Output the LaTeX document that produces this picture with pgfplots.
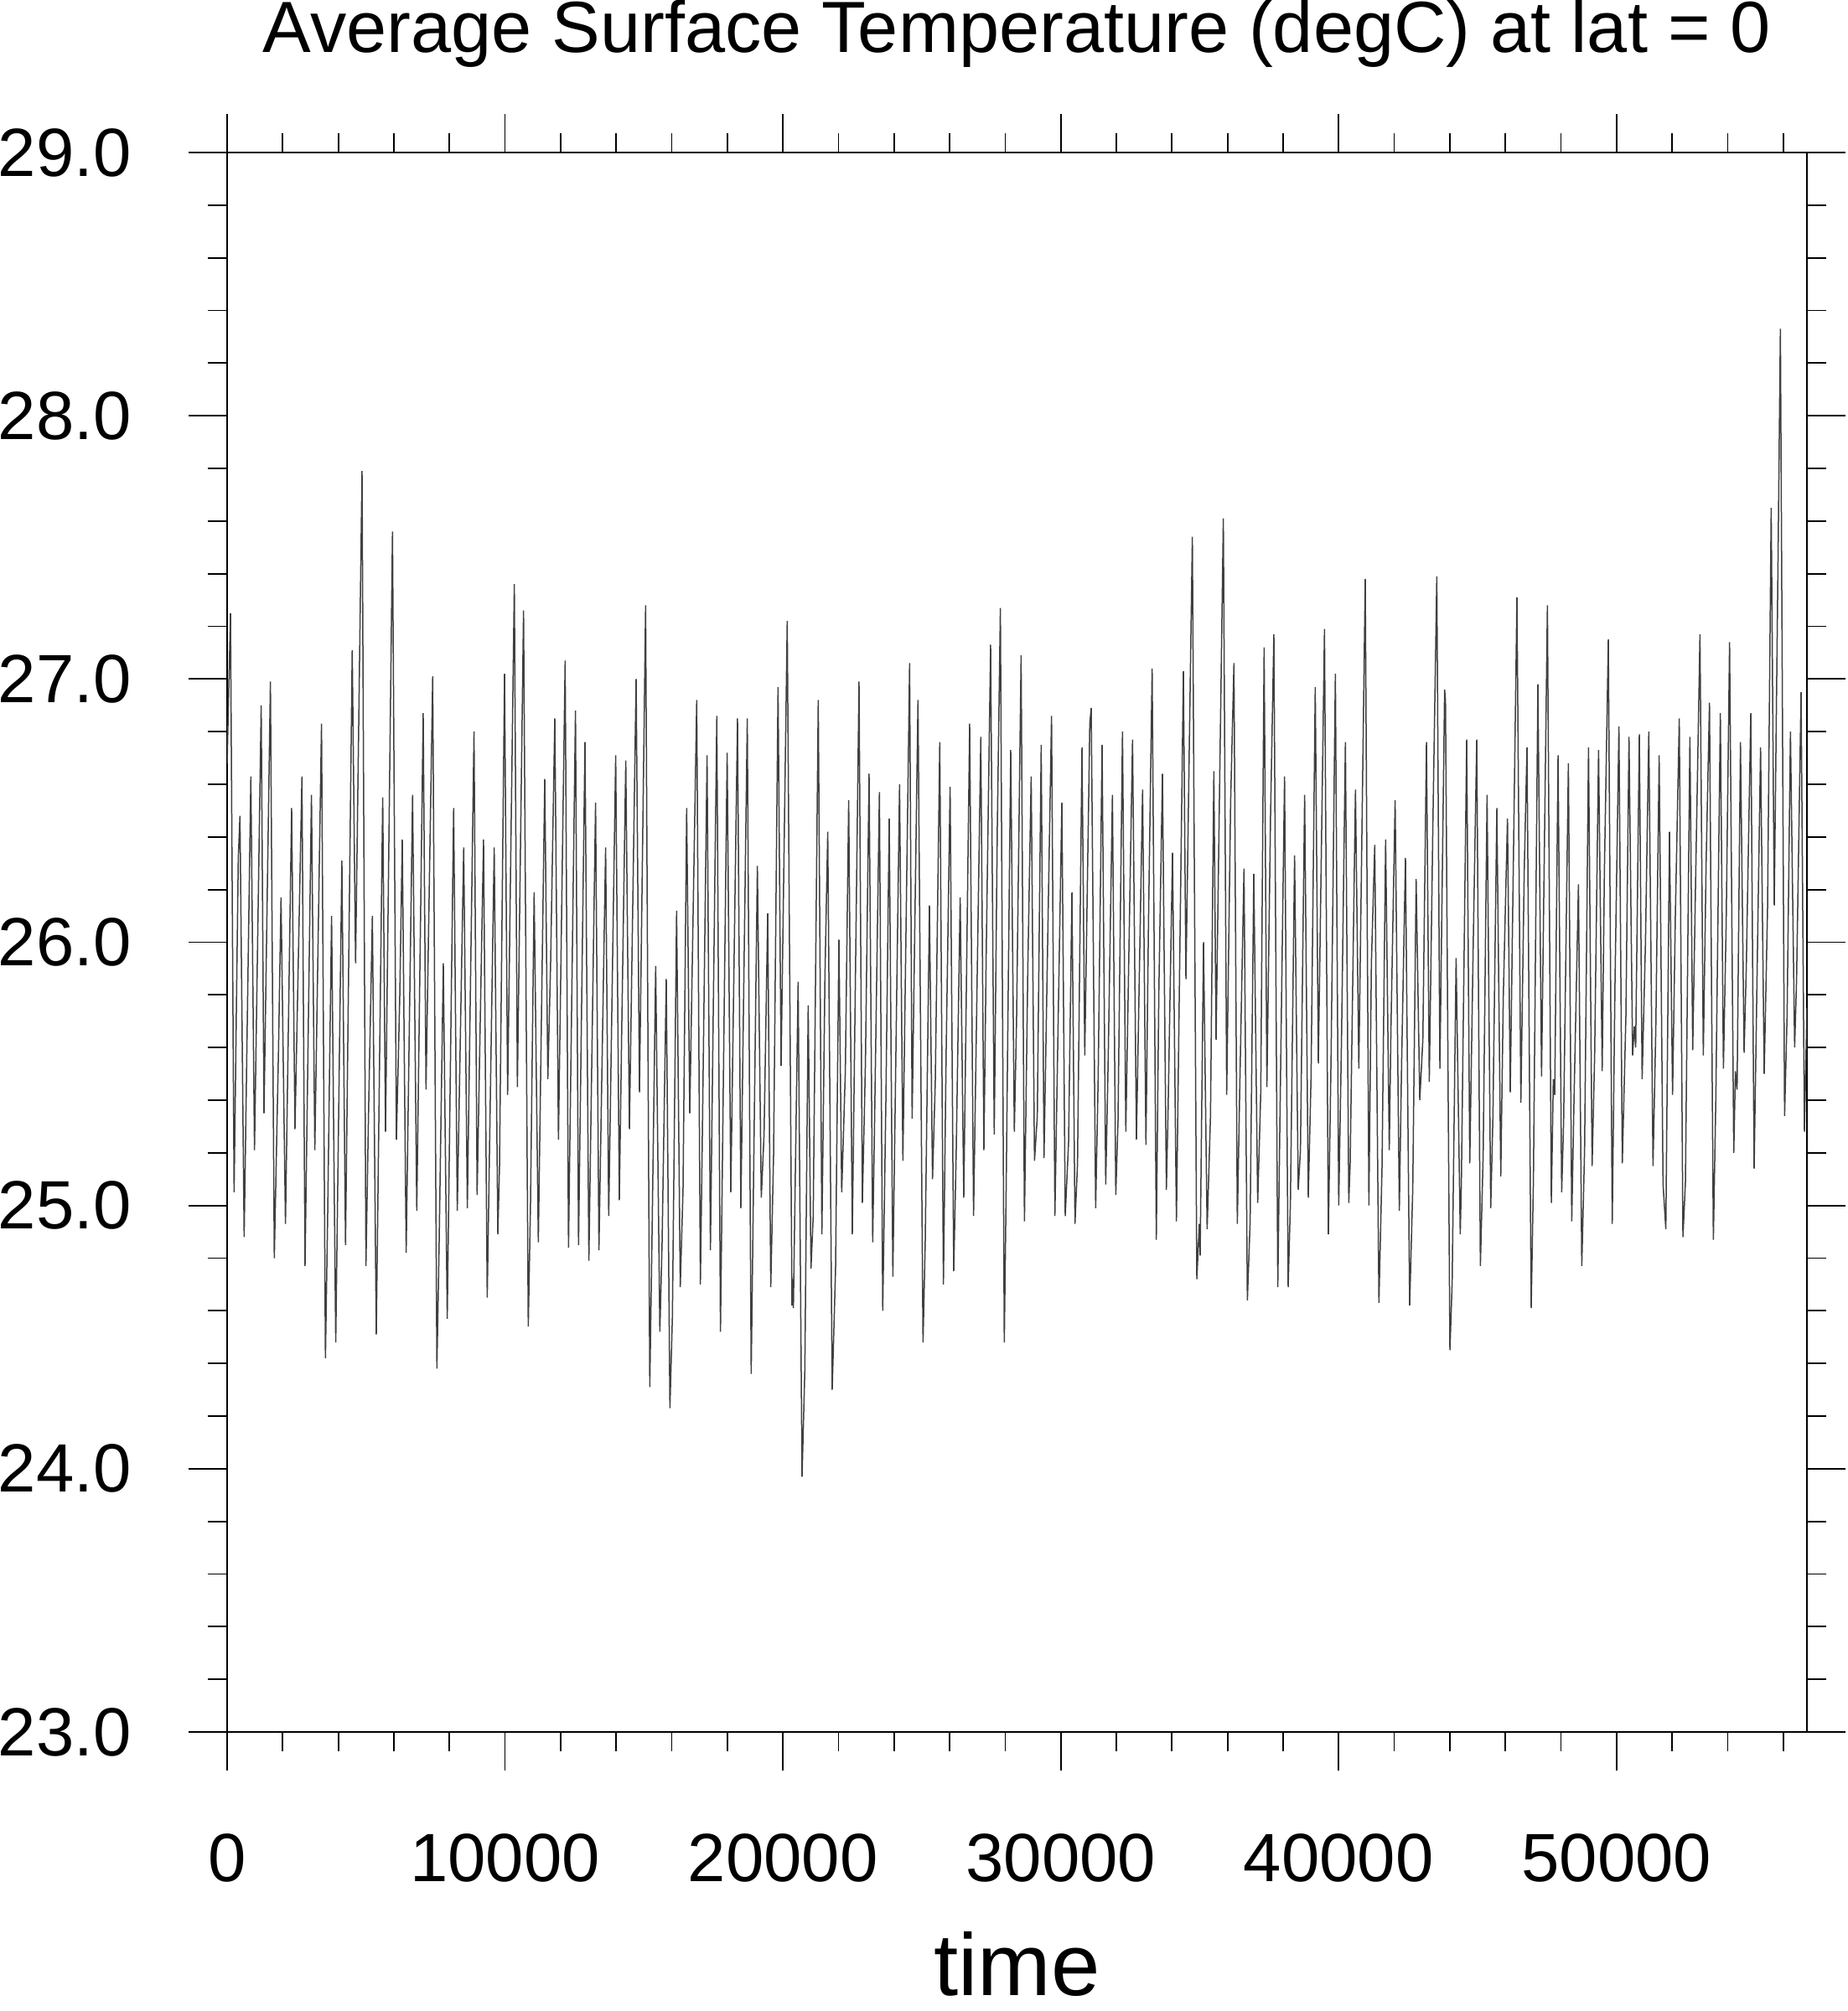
\documentclass[border=0pt]{standalone}
\usepackage{fontspec}
\setmainfont{Liberation Sans}
\usepackage{pgfplots}
\pgfplotsset{compat=1.18}
\usepackage{pgfplotstable}
\pgfplotstableread{
t v
0 26.68
121 27.25
251 25.05
402 26.32
462 26.48
613 24.88
854 26.63
985 25.21
1226 26.90
1327 25.35
1558 26.99
1698 24.80
1849 25.59
1940 26.17
2100 24.93
2321 26.51
2442 25.29
2693 26.63
2804 24.77
3035 26.56
3156 25.21
3397 26.83
3538 24.42
3618 24.96
3759 26.10
3909 24.48
4130 26.31
4261 24.85
4502 27.11
4623 25.92
4855 27.79
4996 24.77
5087 25.34
5227 26.10
5368 24.51
5599 26.55
5700 25.28
5951 27.56
6092 25.25
6212 25.79
6303 26.39
6443 24.82
6674 26.56
6825 24.98
7056 26.87
7157 25.44
7398 27.01
7549 24.38
7629 24.85
7780 25.92
7921 24.57
8152 26.51
8282 24.98
8514 26.36
8644 24.99
8885 26.80
8996 25.04
9227 26.39
9360 24.65
9611 26.36
9742 24.89
9802 25.15
9983 27.02
10094 25.42
10335 27.36
10445 25.45
10667 27.26
10837 24.54
10918 25.01
11048 26.19
11199 24.86
11430 26.62
11541 25.48
11641 25.92
11792 26.85
11923 25.25
12164 27.07
12285 24.84
12536 26.88
12646 24.85
12878 26.76
13018 24.79
13259 26.53
13380 24.83
13621 26.36
13732 24.96
13983 26.71
14114 25.02
14195 25.63
14346 26.69
14477 25.29
14718 27.00
14839 25.43
15060 27.28
15210 24.31
15301 24.96
15422 25.91
15572 24.52
15653 24.86
15803 25.86
15934 24.23
16024 24.58
16175 26.12
16306 24.69
16406 25.06
16537 26.51
16648 25.35
16899 26.92
17030 24.70
17110 25.34
17271 26.71
17391 24.83
17622 26.86
17753 24.52
17994 26.72
18125 25.05
18366 26.85
18487 24.99
18718 26.85
18859 24.36
19081 26.29
19222 25.03
19322 25.27
19453 26.11
19563 24.69
19664 25.19
19825 26.97
19935 25.53
20156 27.22
20327 24.62
20357 24.72
20377 24.61
20548 25.85
20689 23.97
20790 24.38
20910 25.76
21011 24.76
21091 24.96
21272 26.92
21403 24.89
21513 25.87
21614 26.42
21774 24.30
21895 24.76
22016 26.01
22116 25.05
22247 25.51
22367 26.54
22498 24.89
22739 26.99
22860 25.01
22970 25.54
23101 26.64
23232 24.86
23322 25.48
23473 26.57
23593 24.60
23705 25.39
23826 26.47
23957 24.73
24198 26.60
24318 25.17
24560 27.06
24650 25.33
24861 26.92
25042 24.48
25122 24.86
25273 26.14
25384 25.10
25484 25.47
25645 26.76
25776 24.70
25876 25.59
26017 26.59
26147 24.75
26238 25.21
26379 26.17
26509 25.03
26720 26.83
26861 24.96
27122 26.78
27233 25.21
27313 25.93
27474 27.13
27605 25.27
27715 26.43
27826 27.27
27967 24.48
28037 25.09
28198 26.73
28328 25.28
28409 25.71
28572 27.09
28692 24.94
28813 25.90
28934 26.63
29054 25.17
29155 25.34
29295 26.75
29396 25.18
29547 26.12
29667 26.86
29788 24.96
29868 25.47
30039 26.53
30160 24.96
30280 25.24
30401 26.19
30511 24.93
30602 25.16
30763 26.74
30863 25.57
31044 26.83
31094 26.89
31255 24.99
31346 25.49
31486 26.75
31617 25.08
31707 25.56
31858 26.56
31979 25.04
32059 25.32
32220 26.80
32340 25.28
32582 26.77
32722 25.25
32944 26.58
33064 25.23
33155 26.07
33287 27.04
33437 24.87
33528 25.81
33658 26.64
33799 25.06
33859 25.35
34020 26.34
34161 24.94
34412 27.03
34503 25.86
34734 27.54
34895 24.72
34985 24.93
35015 24.81
35136 26.00
35266 24.91
35387 25.34
35508 26.65
35588 25.63
35849 27.61
35970 25.42
36111 26.53
36231 27.06
36352 24.93
36432 25.40
36593 26.28
36714 24.64
36814 24.94
36945 26.26
37085 25.01
37196 25.43
37317 27.12
37417 25.45
37548 26.48
37668 27.17
37809 24.69
37879 25.27
38052 26.63
38182 24.69
38263 25.01
38413 26.33
38544 25.06
38624 25.21
38775 26.56
38906 25.03
39006 25.49
39157 26.97
39268 25.54
39418 26.65
39489 27.19
39629 24.89
39730 25.59
39881 27.02
40001 25.00
40102 25.63
40242 26.76
40363 25.01
40413 25.16
40604 26.58
40725 25.52
40956 27.38
41087 25.00
41177 25.92
41298 26.37
41448 24.63
41559 25.14
41690 26.39
41820 25.21
41881 25.67
42031 26.54
42182 24.98
42263 25.53
42403 26.32
42554 24.62
42665 25.06
42787 26.24
42918 25.40
43029 25.63
43159 26.76
43260 25.47
43390 26.45
43531 27.39
43642 25.52
43812 26.96
43843 26.92
44003 24.45
44084 24.71
44225 25.94
44375 24.89
44415 25.09
44606 26.77
44717 25.16
44838 25.97
44968 26.77
45099 24.77
45199 25.19
45340 26.56
45471 24.99
45551 25.34
45692 26.51
45833 25.11
45923 25.79
46074 26.47
46174 25.43
46415 27.31
46556 25.39
46677 26.27
46777 26.74
46928 24.61
47008 25.10
47169 26.98
47300 25.49
47511 27.28
47653 25.01
47723 25.48
47774 25.42
47894 26.71
48025 25.05
48095 25.32
48266 26.68
48387 24.94
48457 25.34
48628 26.22
48748 24.77
48849 25.21
48990 26.74
49120 25.15
49211 25.57
49352 26.73
49482 25.51
49562 26.27
49703 27.15
49844 24.93
49944 25.85
50085 26.82
50206 25.16
50336 25.72
50447 26.78
50577 25.57
50638 25.68
50688 25.60
50819 26.79
50919 25.48
51040 26.00
51160 26.80
51311 25.15
51412 25.67
51532 26.71
51673 25.08
51773 24.91
51904 26.42
52015 25.42
52115 26.10
52256 26.85
52388 24.88
52478 25.09
52639 26.78
52740 25.59
52840 26.21
53001 27.17
53121 25.57
53222 26.30
53343 26.91
53483 24.87
53574 25.42
53734 26.87
53845 25.52
53945 26.08
54066 27.14
54217 25.20
54277 25.51
54337 25.44
54458 26.76
54589 25.58
54669 25.91
54830 26.87
54950 25.14
55051 25.84
55182 26.74
55312 25.50
55433 26.13
55564 27.65
55674 26.14
55815 27.50
55895 28.33
56046 25.34
56136 25.72
56257 26.80
56408 25.60
56478 25.86
56639 26.95
56760 25.28
56850 25.75
}\tsdata

\begin{document}
\begin{tikzpicture}
\begin{axis}[
  name=ax, anchor=south west, at={(0pt,0pt)},
  scale only axis, width=377pt, height=377pt,
  xmin=0, xmax=56850, ymin=23, ymax=29,
  xtick={0,10000,20000,30000,40000,50000},
  ytick={23,24,25,26,27,28,29},
  minor xtick={2000,4000,6000,8000,12000,14000,16000,18000,22000,24000,26000,28000,32000,34000,36000,38000,42000,44000,46000,48000,52000,54000,56000},
  minor ytick={23.2,23.4,23.6,23.8,24.2,24.4,24.6,24.8,25.2,25.4,25.6,25.8,26.2,26.4,26.6,26.8,27.2,27.4,27.6,27.8,28.2,28.4,28.6,28.8},
  tick align=outside, tick pos=both,
  major tick length=9.2pt, minor tick length=4.6pt,
  every tick/.style={black, line width=0.35pt},
  axis line style={black, line width=0.45pt},
  scaled x ticks=false, scaled y ticks=false,
  /pgf/number format/assume math mode=true,
  xticklabel style={/pgf/number format/.cd, set thousands separator={}, fixed, precision=0, /tikz/.cd,
    font=\fontsize{16.3}{18}\selectfont, anchor=north, inner sep=0pt, yshift=-15pt},
  yticklabel style={/pgf/number format/.cd, fixed, fixed zerofill, precision=1, /tikz/.cd,
    font=\fontsize{16.3}{18}\selectfont, anchor=east, inner sep=0pt, xshift=-13.5pt},
  xlabel={time},
  xlabel style={font=\fontsize{21}{24}\selectfont, at={(axis description cs:0.5,0)}, anchor=base, inner sep=0pt, yshift=-62.8pt},
  title={Average Surface Temperature (degC) at lat = 0},
  title style={font=\fontsize{17.3}{20}\selectfont, at={(axis description cs:0.5,1)}, anchor=base, inner sep=0pt, yshift=18pt},
  axis background/.style={fill=white},
]
\addplot[black!75, line width=0.3pt, no markers] table[x=t, y=v] {\tsdata};
\end{axis}
\pgfresetboundingbox
\useasboundingbox (-54.2pt,-66.6pt) rectangle (386.8pt,413.4pt);
\end{tikzpicture}
\end{document}
